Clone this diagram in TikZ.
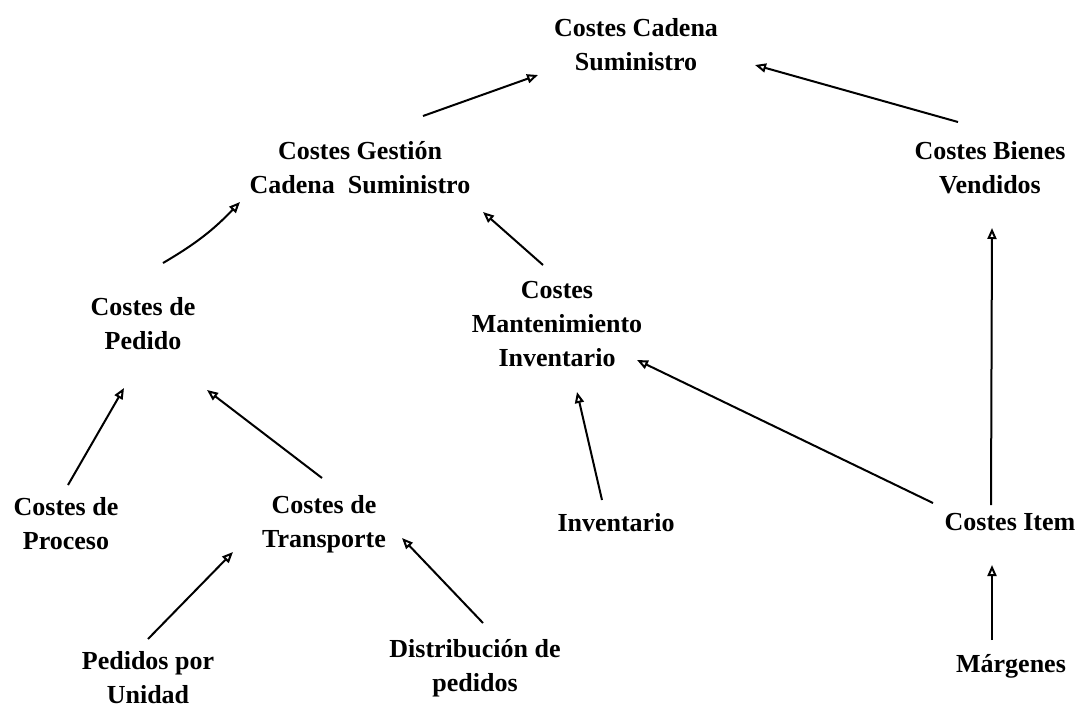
\documentclass[tikz,border=0pt]{standalone}
\usepackage{fontspec}
\setmainfont{Liberation Serif}
\usepackage{tikz}
\usetikzlibrary{arrows.meta}
\tikzset{
	caja/.style={align=center, inner sep=0pt, font=\bfseries\fontsize{26}{34}\selectfont},
	flecha/.style={-{Triangle[open, length=11pt, width=9pt]}, line width=2pt},
}

\begin{document}
\begin{tikzpicture}[x=1pt, y=-1pt]
\useasboundingbox (0,0) rectangle (1085,710);

% niveles superiores
\node[caja] (cadena) at (636,45) {Costes Cadena\\Suministro};
\node[caja] (gestion) at (360,167.5) {Costes Gesti\'on\\Cadena~~Suministro};
\node[caja] (bienes) at (990,167.5) {Costes Bienes\\Vendidos};
\node[caja] (pedido) at (143,323.5) {Costes de\\Pedido};
\node[caja] (mantenimiento) at (557,324) {Costes\\Mantenimiento\\Inventario};

% niveles inferiores
\node[caja] (proceso) at (66,524) {Costes de\\Proceso};
\node[caja] (transporte) at (324,524) {Costes de\\Transporte};
\node[caja] (inventario) at (616,522.5) {Inventario};
\node[caja] (item) at (1010,522.5) {Costes Item};
\node[caja] (unidad) at (148,678) {Pedidos por\\Unidad};
\node[caja] (distribucion) at (475,668.5) {Distribuci\'on de\\pedidos};
\node[caja] (margenes) at (1011,666) {M\'argenes};

% flechas
\draw[flecha] ([shift={(63,-51.5)}]gestion.center) -- ([shift={(-98,30)}]cadena.center);
\draw[flecha] ([shift={(-32,-45.5)}]bienes.center) -- ([shift={(119,20)}]cadena.center);
\draw[flecha] ([shift={(20,-60.5)}]pedido.center) to[bend right=8] ([shift={(-120,34.5)}]gestion.center);
\draw[flecha] ([shift={(-14,-59)}]mantenimiento.center) -- ([shift={(123,44.5)}]gestion.center);
\draw[flecha] ([shift={(2,-39)}]proceso.center) -- ([shift={(-19,64.5)}]pedido.center);
\draw[flecha] ([shift={(-2,-46)}]transporte.center) -- ([shift={(64,66.5)}]pedido.center);
\draw[flecha] ([shift={(-14,-22.5)}]inventario.center) -- ([shift={(20,68)}]mantenimiento.center);
\draw[flecha] ([shift={(-77,-19.5)}]item.center) -- ([shift={(80,36)}]mantenimiento.center);
\draw[flecha] ([shift={(-19,-17.5)}]item.center) -- ([shift={(2,60.5)}]bienes.center);
\draw[flecha] ([shift={(0,-39)}]unidad.center) -- ([shift={(-91,28)}]transporte.center);
\draw[flecha] ([shift={(8,-45.5)}]distribucion.center) -- ([shift={(78,14)}]transporte.center);
\draw[flecha] ([shift={(-19,-26)}]margenes.center) -- ([shift={(-18,42.5)}]item.center);
\end{tikzpicture}
\end{document}
